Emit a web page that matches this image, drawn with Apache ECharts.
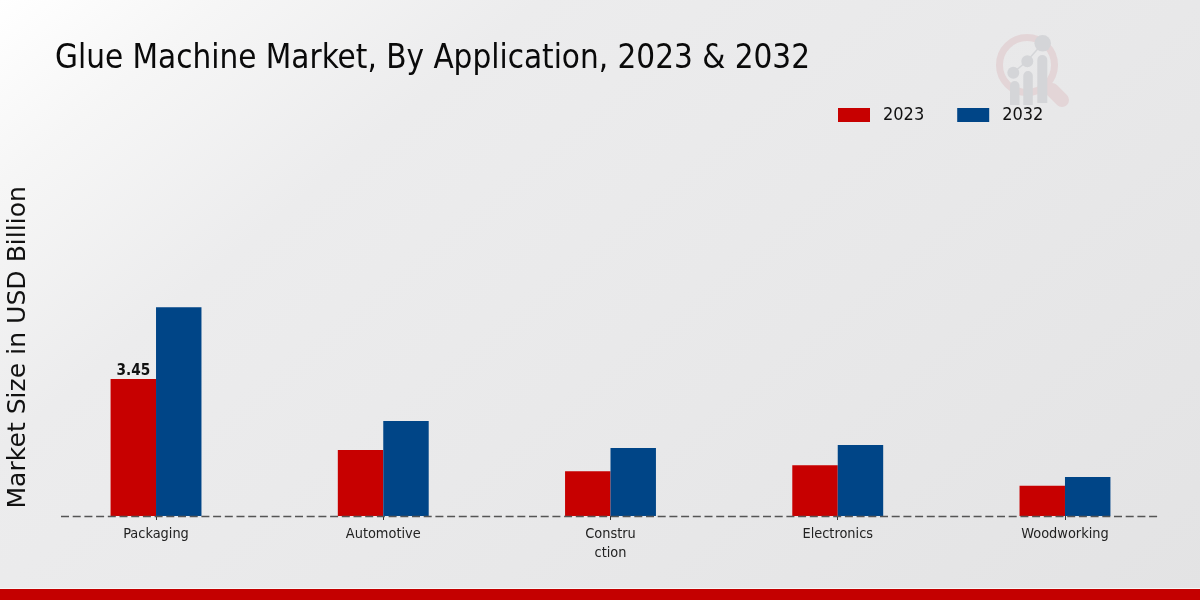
<!DOCTYPE html>
<html><head><meta charset="utf-8">
<style>html,body{margin:0;padding:0}#c{width:1200px;height:600px}</style>
<script src="https://cdn.jsdelivr.net/npm/echarts@6/dist/echarts.min.js"></script>
</head><body><div id="c"></div>
<script>
const categories = ['Packaging','Automotive','Constru\nction','Electronics','Woodworking'];
const values2023 = [3.45,1.66,1.13,1.28,0.76];
const values2032 = [5.26,2.39,1.71,1.79,0.98];
const cond = '"DejaVu Sans Condensed","DejaVu Sans"';
const chart = echarts.init(document.getElementById('c'),null,{renderer:'canvas'});
const wm = {type:'group',silent:true,z:0,children:[
 {type:'circle',shape:{cx:1027,cy:65,r:27.5},style:{fill:'none',stroke:'#e3d5d7',lineWidth:7}},
 {type:'line',shape:{x1:1052,y1:90,x2:1062,y2:100},style:{stroke:'#e3d5d7',lineWidth:14,lineCap:'round'}},
 {type:'polyline',shape:{points:[[1013,73],[1027,61],[1043,43]]},style:{stroke:'#d4d5d8',lineWidth:1.5,fill:'none'}},
 {type:'circle',shape:{cx:1013.3,cy:72.7,r:6},style:{fill:'#d4d5d8'}},
 {type:'circle',shape:{cx:1027.3,cy:61.3,r:6},style:{fill:'#d4d5d8'}},
 {type:'circle',shape:{cx:1042.7,cy:43.3,r:8.3},style:{fill:'#d4d5d8'}},
 {type:'rect',shape:{x:1010,y:81,width:9.5,height:24,r:[4.7,4.7,0,0]},style:{fill:'#d4d5d8'}},
 {type:'rect',shape:{x:1023.3,y:71,width:9.5,height:34,r:[4.7,4.7,0,0]},style:{fill:'#d4d5d8'}},
 {type:'rect',shape:{x:1037.3,y:55,width:10,height:48,r:[5,5,0,0]},style:{fill:'#d4d5d8'}}
]};
chart.setOption({
 animation:false,
 backgroundColor:{type:'linear',x:0,y:0,x2:0.656,y2:1.58,colorStops:[{offset:0,color:'#ffffff'},{offset:0.115,color:'#f6f6f6'},{offset:0.28,color:'#ececed'},{offset:0.62,color:'#e8e8e9'},{offset:1,color:'#e3e3e4'}]},
 title:{text:'Glue Machine Market, By Application, 2023 & 2032',left:55,top:43,padding:0,textStyle:{fontFamily:cond,fontSize:32.9,fontWeight:'normal',color:'#0a0a0a'}},
 legend:{left:833,top:101,itemWidth:32,itemHeight:14,itemGap:33,icon:'rect',itemStyle:{borderWidth:0},textStyle:{fontFamily:cond,fontSize:18,color:'#111',padding:[0,0,0,8]},data:['2023','2032']},
 grid:{left:42.4,width:1136.2,top:178.55,height:337.45,outerBoundsMode:'none'},
 xAxis:{type:'category',data:categories,axisLine:{show:false},axisTick:{show:true,alignWithLabel:true,length:4,lineStyle:{color:'#333',width:1}},axisLabel:{interval:0,margin:9,fontFamily:cond,fontSize:14.4,color:'#222',lineHeight:19}},
 yAxis:{type:'value',min:0,max:8.5,show:true,name:'Market Size in USD Billion',nameLocation:'middle',nameGap:11,nameTextStyle:{fontFamily:'"DejaVu Sans"',fontSize:25.1,color:'#111'},axisLine:{show:false},axisTick:{show:false},axisLabel:{show:false},splitLine:{show:false}},
 series:[
  {name:'2023',type:'bar',data:values2023,barWidth:'20%',barGap:'0%',itemStyle:{color:'#c70000'},z:2,
   label:{show:true,position:'top',distance:0,fontFamily:cond,fontWeight:'bold',fontSize:15.2,color:'#111',formatter:p=>p.dataIndex===0?p.value.toFixed(2):''}},
  {name:'2032',type:'bar',data:values2032,barWidth:'20%',barGap:'0%',itemStyle:{color:'#004587'},z:2}
 ],
 color:['#c70000','#004587'],
 graphic:[wm,
  {type:'line',z:10,silent:true,shape:{x1:61,y1:516.5,x2:1159,y2:516.5},style:{stroke:'#555',lineWidth:1.4,lineDash:[8,3.7]}},
  {type:'rect',z:10,silent:true,shape:{x:0,y:589,width:1200,height:11},style:{fill:'#c40000'}},
  {type:'line',z:10,silent:true,shape:{x1:0,y1:588.5,x2:1200,y2:588.5},style:{stroke:'#f6f6f6',lineWidth:1}}
 ]
});
</script></body></html>
